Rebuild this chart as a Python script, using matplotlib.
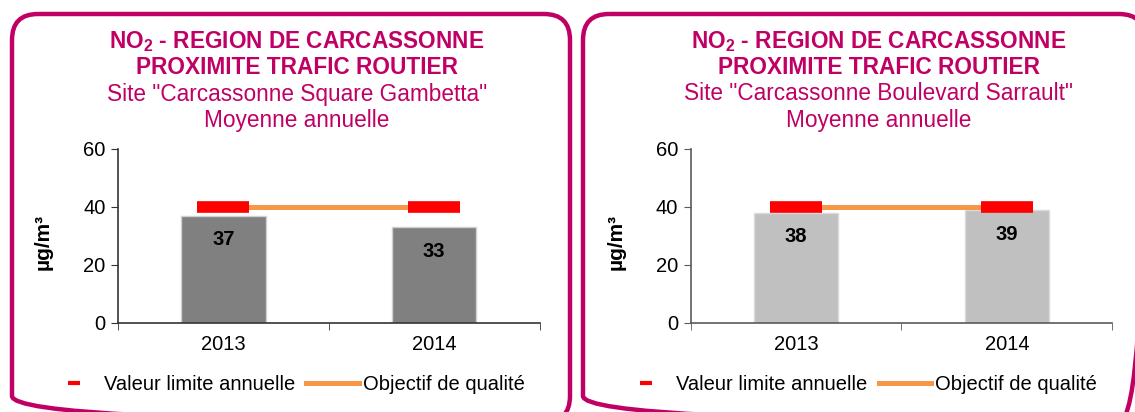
import matplotlib.pyplot as plt
import numpy as np
from matplotlib.lines import Line2D
from matplotlib.patches import FancyBboxPatch

plt.rcParams['font.family'] = ['Liberation Sans', 'DejaVu Sans']
plt.rcParams['mathtext.fontset'] = 'custom'
plt.rcParams['mathtext.rm'] = 'Liberation Sans'
plt.rcParams['mathtext.bf'] = 'Liberation Sans:bold'

# data
years = ['2013', '2014']
sites = ['Site "Carcassonne Square Gambetta"', 'Site "Carcassonne Boulevard Sarrault"']
site_values = [[37, 33], [38, 39]]
bar_colors = ['#808080', '#C0C0C0']
valeur_limite = [40, 40]
objectif_qualite = [40, 40]

W, H = 1135, 412
fig = plt.figure(figsize=(W / 100, H / 100), dpi=100)

magenta = '#C00064'

# background axes in pixel units for the rounded panel frames
bg = fig.add_axes([0, 0, 1, 1])
bg.set_xlim(0, W)
bg.set_ylim(H, 0)
bg.axis('off')
frames = [(12, 14, 570, 422), (583, 14, 1145, 422)]
for x0, y0, x1, y1 in frames:
    bg.add_patch(FancyBboxPatch((x0, y0), x1 - x0, y1 - y0,
                                boxstyle='round,pad=0,rounding_size=26',
                                fill=False, edgecolor=magenta, linewidth=3.2))

axes_left = [118, 690.7]
title_x = [297, 879]
legend_x = [286, 858.5]
spine_col = ['#333333', '#5a5a5a']

for i in range(2):
    ax = fig.add_axes([axes_left[i] / W, 1 - 322.7 / H, 421.5 / W, (322.7 - 149) / H])
    x = np.arange(len(years))
    ax.bar(x, site_values[i], width=0.40, color=bar_colors[i],
           edgecolor='#d0d0d0' if i == 0 else '#dadada', linewidth=1, zorder=2)
    ax.plot(x, objectif_qualite, color='#F79646', lw=3.6, zorder=3)
    ax.plot(x, valeur_limite, ls='none', marker='_', ms=37.4, mew=8.4,
            color='#FF0000', zorder=4)
    for xi, v in zip(x, site_values[i]):
        ax.annotate(str(v), (xi, v), xytext=(0, -17.5), textcoords='offset points',
                    ha='center', va='center', fontsize=14.5, fontweight='bold')

    ax.set_xlim(-0.5, 1.5)
    ax.set_ylim(0, 60)
    ax.set_yticks([0, 20, 40, 60])
    ax.set_xticks(x)
    ax.set_xticklabels(years)
    ax.set_xticks([-0.5, 0.5, 1.5], minor=True)
    ax.tick_params(axis='x', which='major', length=0, pad=9, labelsize=14.5)
    ax.tick_params(axis='x', which='minor', length=5, color=spine_col[i])
    ax.tick_params(axis='y', length=5, pad=4, labelsize=14.5, color=spine_col[i])
    for s in ['top', 'right']:
        ax.spines[s].set_visible(False)
    for s in ['left', 'bottom']:
        ax.spines[s].set_color(spine_col[i])
        ax.spines[s].set_linewidth(1.2)

    fig.text((axes_left[i] - 75) / W, 1 - 242 / H, 'µg/m³', rotation=90,
             ha='center', va='center', fontsize=15, fontweight='bold')

    tx = title_x[i] / W
    fig.text(tx, 1 - 42 / H, r'NO$_\mathbf{2}$ - REGION DE CARCASSONNE', ha='center', va='center',
             fontsize=16.3, fontweight='bold', color=magenta)
    fig.text(tx, 1 - 67 / H, 'PROXIMITE TRAFIC ROUTIER', ha='center', va='center',
             fontsize=16.3, fontweight='bold', color=magenta)
    fig.text(tx, 1 - 94 / H, sites[i], ha='center', va='center',
             fontsize=16.3, color=magenta)
    fig.text(tx, 1 - 121 / H, 'Moyenne annuelle', ha='center', va='center',
             fontsize=16.3, color=magenta)

    handles = [Line2D([], [], ls='none', marker='_', ms=8.6, mew=3, color='#FF0000'),
               Line2D([], [], color='#F79646', lw=3.6)]
    fig.legend(handles, ['Valeur limite annuelle', 'Objectif de qualité'],
               loc='center', bbox_to_anchor=(legend_x[i] / W, 1 - 385 / H), ncol=2,
               frameon=False, fontsize=14.5, handlelength=2.6, handletextpad=0.2,
               columnspacing=0.55, borderpad=0, borderaxespad=0)

fig.savefig('out.png', dpi=100)
